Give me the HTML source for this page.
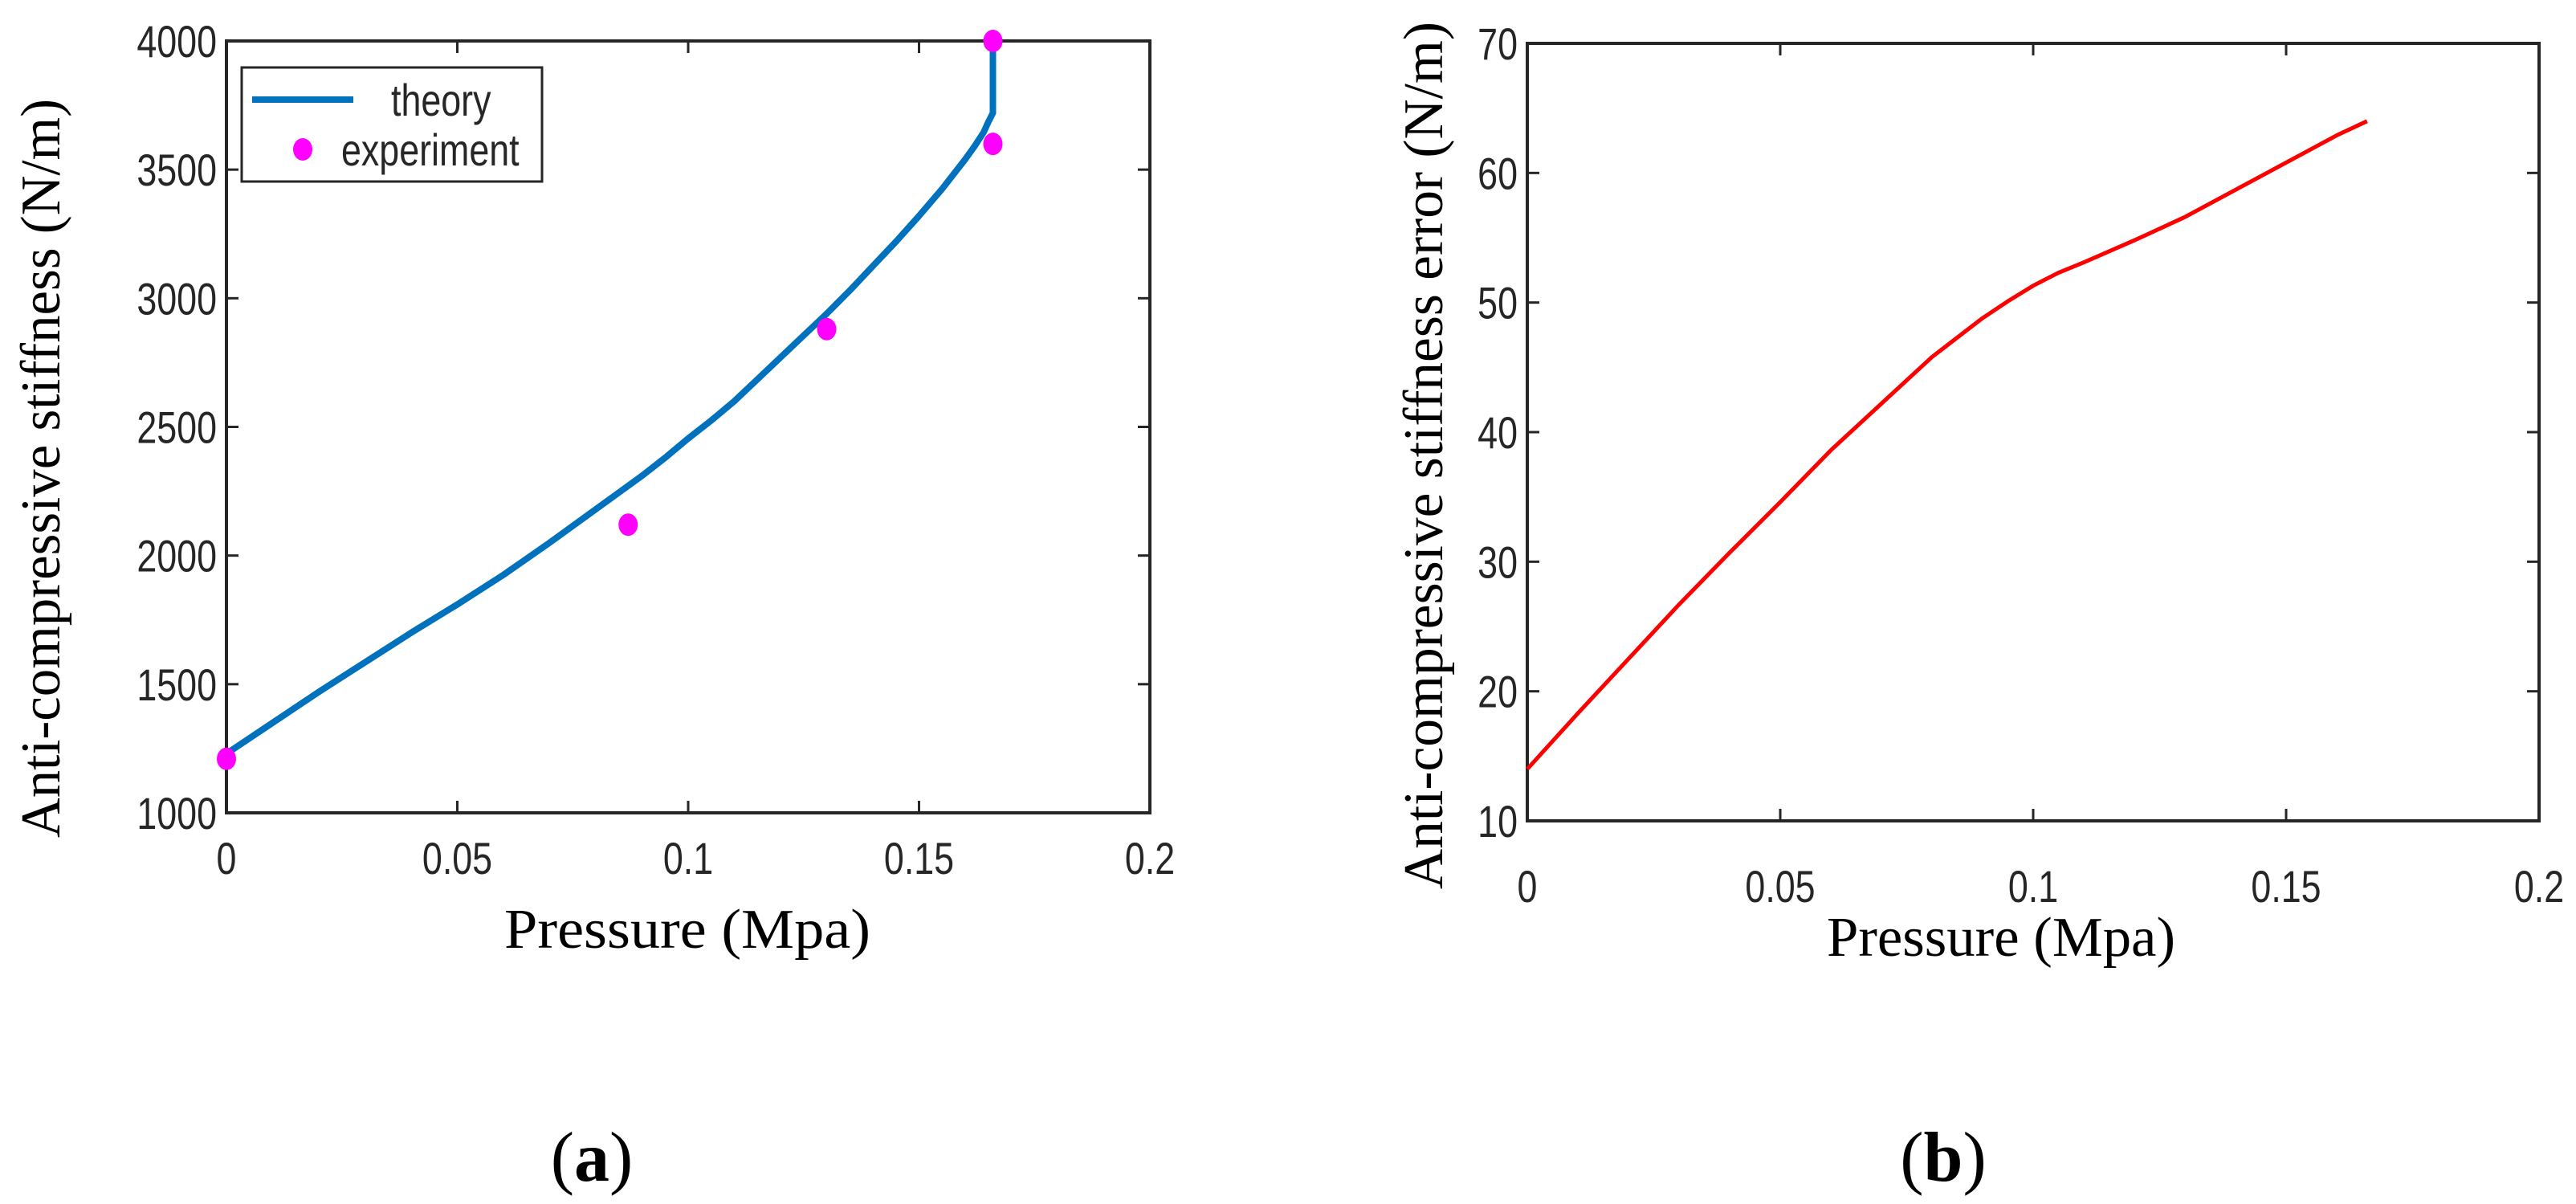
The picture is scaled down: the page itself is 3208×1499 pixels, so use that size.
<!DOCTYPE html>
<html><head><meta charset="utf-8"><style>
html,body{margin:0;padding:0;background:#fff;}
svg{display:block;}
.tick{font-family:"Liberation Sans",sans-serif;font-size:56px;fill:#262626;}
.title{font-family:"Liberation Serif",serif;font-size:70px;fill:#000;}
</style></head><body>
<svg id="fig" width="3208" height="1499" viewBox="0 0 3208 1499" xmlns="http://www.w3.org/2000/svg">
<text x="737" y="1470" text-anchor="middle" class="title" style="font-size:88px">(<tspan font-weight="bold">a</tspan>)</text>
<text x="2420" y="1470" text-anchor="middle" class="title" style="font-size:88px">(<tspan font-weight="bold">b</tspan>)</text>
</svg>
<script>
const NS="http://www.w3.org/2000/svg";
const svg=document.getElementById('fig');
// Panel A data
const aXTicks=[0,0.05,0.1,0.15,0.2];
const aXTickLabels=["0","0.05","0.1","0.15","0.2"];
const aYTicks=[1000,1500,2000,2500,3000,3500,4000];
const aYTickLabels=["1000","1500","2000","2500","3000","3500","4000"];
const theoryX=[0,0.01,0.02,0.03,0.04,0.05,0.06,0.07,0.08,0.085,0.09,0.095,0.1,0.105,0.11,0.115,0.12,0.125,0.13,0.135,0.14,0.145,0.15,0.155,0.16,0.162,0.164,0.165,0.166,0.166];
const theoryY=[1230,1350,1470,1585,1700,1810,1925,2050,2180,2245,2310,2380,2455,2525,2600,2685,2770,2855,2940,3030,3125,3220,3320,3425,3540,3590,3645,3685,3720,4000];
const expX=[0,0.087,0.13,0.166,0.166];
const expY=[1210,2120,2880,3600,4000];
// Panel B data
const bXTicks=[0,0.05,0.1,0.15,0.2];
const bXTickLabels=["0","0.05","0.1","0.15","0.2"];
const bYTicks=[10,20,30,40,50,60,70];
const bYTickLabels=["10","20","30","40","50","60","70"];
const errX=[0,0.01,0.02,0.03,0.04,0.05,0.06,0.07,0.08,0.09,0.095,0.1,0.105,0.11,0.12,0.13,0.14,0.15,0.16,0.166];
const errY=[14,18.3,22.5,26.7,30.7,34.6,38.6,42.2,45.8,48.8,50.1,51.3,52.3,53.1,54.8,56.6,58.7,60.8,62.9,64];

function mk(tag,attrs,parent){const e=document.createElementNS(NS,tag);for(const k in attrs)e.setAttribute(k,attrs[k]);(parent||svg).appendChild(e);return e;}
function ctext(g,x,y,anchor,str){
  const t=mk('text',{x:0,y:0,'text-anchor':anchor,class:'tick',transform:`translate(${x},${y}) scale(0.8,1)`},g);
  t.textContent=str;return t;
}

function axes(g,L,T,R,B,xmin,xmax,ymin,ymax,xt,xtl,yt,ytl,xLabY,xT,yT,yTitle,prefix){
  const sx=v=>L+(v-xmin)/(xmax-xmin)*(R-L);
  const sy=v=>B-(v-ymin)/(ymax-ymin)*(B-T);
  xt.forEach((v,i)=>{
    const t1=mk('line',{x1:sx(v),x2:sx(v),y1:B,y2:B-15,stroke:'#262626','stroke-width':3},g);
    
    
    const t2=mk('line',{x1:sx(v),x2:sx(v),y1:T,y2:T+15,stroke:'#262626','stroke-width':3},g);
    
    
    const tx=ctext(g,sx(v),xLabY,'middle',xtl[i]);
    
    
  });
  yt.forEach((v,i)=>{
    const t1=mk('line',{x1:L,x2:L+15,y1:sy(v),y2:sy(v),stroke:'#262626','stroke-width':3},g);
    
    
    const t2=mk('line',{x1:R,x2:R-15,y1:sy(v),y2:sy(v),stroke:'#262626','stroke-width':3},g);
    
    
    const tx=ctext(g,L-12,sy(v)+20,'end',ytl[i]);
    
    
  });
  const box=mk('rect',{x:L,y:T,width:R-L,height:B-T,fill:'none',stroke:'#262626','stroke-width':4},g);
  
  
  const xtT=mk('text',{x:xT[0]-xT[2]/2,y:xT[1],class:'title',textLength:xT[2],lengthAdjust:'spacingAndGlyphs'},g);
  xtT.textContent='Pressure (Mpa)';
  
  
  const ytT=mk('text',{x:-yT[2]/2,y:0,class:'title',textLength:yT[2],lengthAdjust:'spacingAndGlyphs',transform:`translate(${yT[0]},${yT[1]}) rotate(-90)`},g);
  ytT.textContent=yTitle;
  
  
  return {sx,sy};
}

// Panel A
const gA=mk('g',{});


const A=axes(gA,282,51,1432,1012,0,0.2,1000,4000,aXTicks,aXTickLabels,aYTicks,aYTickLabels,1088,[856,1180,456],[74,583,920],'Anti-compressive stiffness (N/m)','chart-a');
const pa=mk('polyline',{points:theoryX.map((x,i)=>A.sx(x)+','+A.sy(theoryY[i])).join(' '),fill:'none',stroke:'#0072BD','stroke-width':8,'stroke-linejoin':'round'},gA);


expX.forEach((x,i)=>{
  const c=mk('ellipse',{cx:A.sx(x),cy:A.sy(expY[i]),rx:12,ry:14,fill:'#FF00FF'},gA);
  
  
});
// Legend
const lg=mk('g',{},gA);


mk('rect',{x:301,y:84,width:374,height:142,fill:'#fff',stroke:'#262626','stroke-width':3},lg);
mk('line',{x1:314,x2:440,y1:124,y2:124,stroke:'#0072BD','stroke-width':8},lg);
const l1=ctext(lg,487,144,'start','theory');


mk('ellipse',{cx:377,cy:186,rx:12,ry:14,fill:'#FF00FF'},lg);
const l2=ctext(lg,425,206,'start','experiment');



// Panel B
const gB=mk('g',{});


const B=axes(gB,1902,54,3162,1022,0,0.2,10,70,bXTicks,bXTickLabels,bYTicks,bYTickLabels,1123,[2492,1190,434],[1796,567,1080],'Anti-compressive stiffness error (N/m)','chart-b');
const pb=mk('polyline',{points:errX.map((x,i)=>B.sx(x)+','+B.sy(errY[i])).join(' '),fill:'none',stroke:'#FF0000','stroke-width':5,'stroke-linejoin':'round'},gB);


</script>
</body></html>
